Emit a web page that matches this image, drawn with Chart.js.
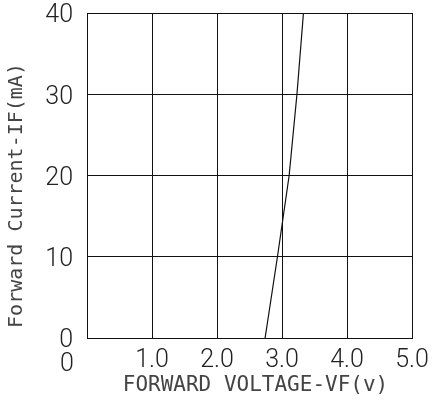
<!DOCTYPE html>
<html>
<head>
<meta charset="utf-8">
<script src="https://cdn.jsdelivr.net/npm/chart.js@4.4.1/dist/chart.umd.min.js"></script>
<style>
  html, body { margin: 0; padding: 0; background: #fff; }
  #wrap { width: 435px; height: 408px; position: relative; }
</style>
</head>
<body>
<div id="wrap"><canvas id="c" width="435" height="408"></canvas></div>
<script>
// Data
const voltage = [2.74, 2.93, 3.11, 3.23, 3.33];   // VF (V)
const current = [0, 10, 20, 30, 40];             // IF (mA)
const xTitle = 'FORWARD VOLTAGE-VF(v)';
const yTitle = 'Forward Current-IF(mA)';
const xMin = 0, xMax = 5, xStep = 1;
const yMin = 0, yMax = 40, yStep = 10;

const points = voltage.map((v, i) => ({ x: v, y: current[i] }));

const tickFont = { family: 'Roboto', size: 25, weight: '300' };
const textColor = '#222';
const titleColor = '#444';

const extras = {
  id: 'extras',
  afterDraw(chart) {
    const { ctx, chartArea, scales } = chart;
    ctx.save();
    ctx.fillStyle = textColor;
    // x = 0 label (offset left of the axis, as in the reference)
    ctx.font = `${tickFont.weight} ${tickFont.size}px ${tickFont.family}`;
    ctx.textAlign = 'center';
    ctx.textBaseline = 'middle';
    ctx.fillText('0', scales.x.getPixelForValue(0) - 20, chartArea.bottom + 27);
    // titles
    ctx.fillStyle = titleColor;
    ctx.font = '21px "DejaVu Sans Mono"';
    ctx.fillText(xTitle, (chartArea.left + chartArea.right) / 2 + 6, chartArea.bottom + 48);
    ctx.font = '20px "DejaVu Sans Mono"';
    ctx.translate(17, (chartArea.top + chartArea.bottom) / 2 + 20);
    ctx.rotate(-Math.PI / 2);
    ctx.fillText(yTitle, 0, 0);
    ctx.restore();
  }
};

new Chart(document.getElementById('c'), {
  type: 'scatter',
  data: {
    datasets: [{
      data: points,
      showLine: true,
      borderColor: '#111',
      borderWidth: 1.2,
      pointRadius: 0,
      tension: 0,
      fill: false
    }]
  },
  options: {
    responsive: false,
    animation: false,
    devicePixelRatio: 1,
    layout: { padding: { top: 13, right: 23, left: 0, bottom: 0 } },
    plugins: { legend: { display: false }, tooltip: { enabled: false } },
    scales: {
      x: {
        type: 'linear', min: xMin, max: xMax,
        ticks: {
          stepSize: xStep, color: textColor, font: tickFont, padding: 8,
          maxRotation: 0, autoSkip: false,
          callback: v => (v === 0 ? '' : v.toFixed(1))
        },
        grid: { color: '#111', lineWidth: 1, drawTicks: false },
        border: { color: '#111', width: 1 },
        afterFit(s) { s.height = 70; s.paddingLeft = 0; s.paddingRight = 0; }
      },
      y: {
        type: 'linear', min: yMin, max: yMax,
        ticks: {
          stepSize: yStep, color: textColor, font: tickFont, padding: 14,
          autoSkip: false, labelOffset: 3
        },
        grid: { color: '#111', lineWidth: 1, drawTicks: false },
        border: { color: '#111', width: 1 },
        afterFit(s) { s.width = 87; s.paddingTop = 0; s.paddingBottom = 0; }
      }
    }
  },
  plugins: [extras]
});
</script>
</body>
</html>
